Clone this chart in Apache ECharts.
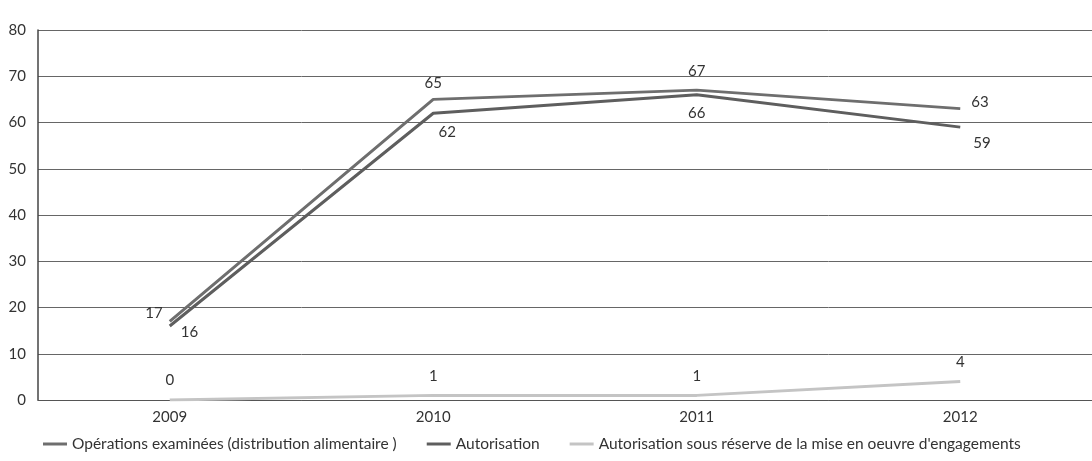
<!DOCTYPE html>
<html><head><meta charset="utf-8">
<script src="https://cdn.jsdelivr.net/npm/echarts@6/dist/echarts.min.js"></script>
<style>html,body{margin:0;padding:0;background:#fff}#c{width:1092px;height:461px}</style>
</head><body><div id="c"></div>
<script>
const years = ['2009', '2010', '2011', '2012'];
const operations = [17, 65, 67, 63];
const autorisation = [16, 62, 66, 59];
const sousReserve = [0, 1, 1, 4];
const yTicks = [0, 10, 20, 30, 40, 50, 60, 70, 80];
const names = ['Opérations examinées (distribution alimentaire )', 'Autorisation', "Autorisation sous réserve de la mise en oeuvre d'engagements"];

const font = 'Lato, "Open Sans", sans-serif';
function pts(vals, positions, offsets) {
  return vals.map((v, i) => ({
    value: v,
    label: { position: positions[i], offset: offsets ? offsets[i] : [0, 0] }
  }));
}
const lbl = { show: true, fontFamily: font, fontSize: 15, color: '#333' };
const chart = echarts.init(document.getElementById('c'));
chart.setOption({
  backgroundColor: '#ffffff',
  animation: false,
  grid: { left: 38, right: -5, top: 30, bottom: 61 },
  legend: {
    bottom: 4, left: 38, itemGap: 30, itemWidth: 24, itemHeight: 3, icon: 'rect',
    textStyle: { fontFamily: font, fontSize: 15.5, color: '#333' },
    data: names
  },
  xAxis: {
    type: 'category', data: years, boundaryGap: true,
    axisLine: { lineStyle: { color: '#555', width: 1 } },
    axisTick: { show: false },
    axisLabel: { fontFamily: font, fontSize: 15, color: '#333', margin: 10 }
  },
  yAxis: {
    type: 'value', min: yTicks[0], max: yTicks[yTicks.length - 1], interval: 10,
    axisLine: { show: true, lineStyle: { color: '#444', width: 1.5 } },
    axisTick: { show: false },
    axisLabel: { fontFamily: font, fontSize: 15, color: '#333', margin: 12 },
    splitLine: { lineStyle: { color: '#666', width: 1 } }
  },
  series: [
    {
      name: names[0], type: 'line', symbol: 'circle', symbolSize: 0.1, showSymbol: true,
      lineStyle: { color: '#6e6e6e', width: 3 }, itemStyle: { color: '#6e6e6e' },
      label: lbl,
      data: pts(operations, ['left', 'top', 'top', 'right'], [[-2, -8], [0, -4], [0, -6], [6, -6]])
    },
    {
      name: names[1], type: 'line', symbol: 'circle', symbolSize: 0.1, showSymbol: true,
      lineStyle: { color: '#5e5e5e', width: 3 }, itemStyle: { color: '#5e5e5e' },
      label: lbl,
      data: pts(autorisation, ['right', 'bottom', 'bottom', 'right'], [[6, 6], [14, 6], [0, 6], [8, 16]])
    },
    {
      name: names[2], type: 'line', symbol: 'circle', symbolSize: 0.1, showSymbol: true,
      lineStyle: { color: '#c4c4c4', width: 3 }, itemStyle: { color: '#c4c4c4' },
      label: Object.assign({}, lbl, { position: 'top', distance: 12 }),
      data: sousReserve
    }
  ]
});
</script></body></html>
